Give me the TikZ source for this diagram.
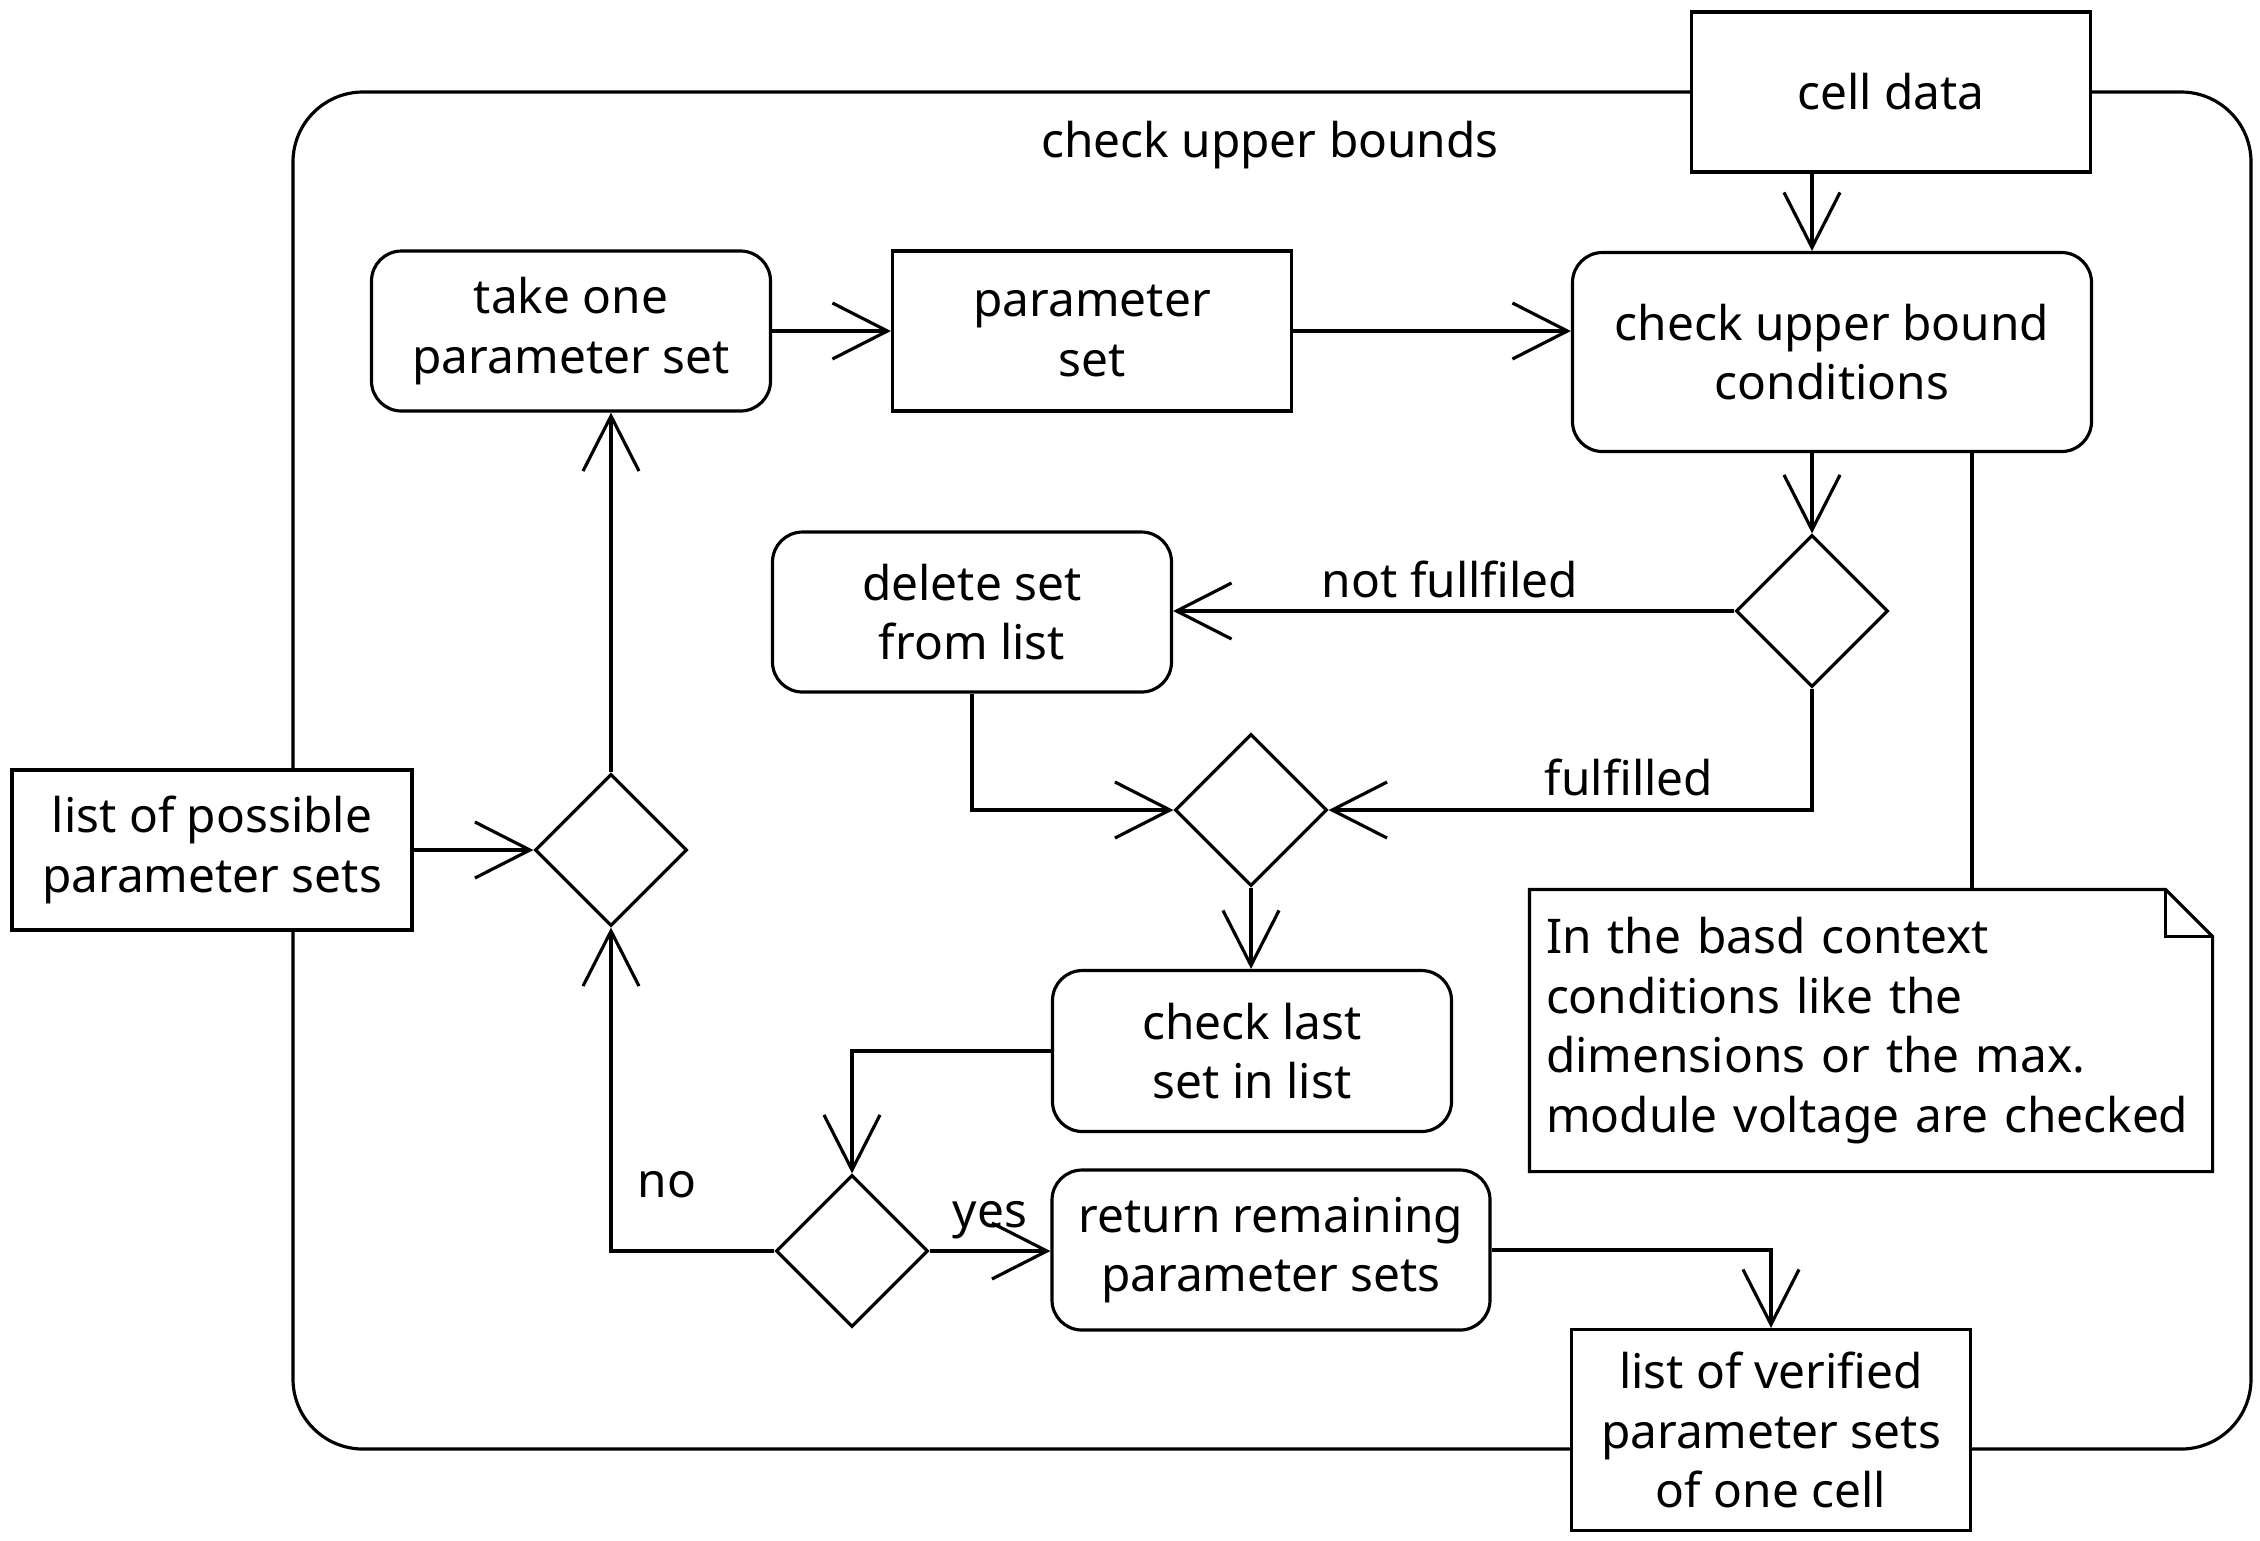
\documentclass[tikz,border=0pt]{standalone}
\usepackage{fontspec}
\setmainfont{Noto Sans}
\usetikzlibrary{arrows.meta,shapes.geometric}

\tikzset{
  action/.style={draw, rounded corners=0.3cm, align=center, fill=white,
    minimum width=3.99cm, minimum height=1.6cm, inner sep=0pt},
  objbox/.style={draw, rectangle, align=center, fill=white,
    minimum width=3.99cm, minimum height=1.6cm, inner sep=0pt},
  decision/.style={draw, diamond, fill=white,
    minimum width=1.52cm, minimum height=1.52cm, inner sep=0pt},
  flow/.style={->, >={Straight Barb[length=5.5mm,width=5.6mm]}},
}

\begin{document}
\begin{tikzpicture}[line width=0.9pt, font=\fontsize{13.6}{17}\selectfont]
      \useasboundingbox (0,0) rectangle (22.6,-15.4);

      % activity frame
       \draw [rounded corners=0.7cm] (2.93,-0.92) rectangle (22.51,-14.49);
       \node (frametitle) at (12.70,-1.45) {check upper bounds};

      % upper row
       \node [objbox] (celldata) at (18.91,-0.92) {cell data};
       \node [action, minimum width=5.19cm, minimum height=1.99cm] (checkub) at (18.32,-3.52) {check upper bound\\conditions};
       \node [action] (takeone) at (5.71,-3.31) {take one\\parameter set};
       \node [objbox] (paramset) at (10.92,-3.31) {parameter\\set};

      % decisions and actions
       \node [decision] (decub) at (18.12,-6.11) {};
       \node [action] (delset) at (9.72,-6.12) {delete set\\from list};
       \node [decision] (decmerge) at (12.51,-8.10) {};
       \node [action, minimum height=1.61cm] (checklast) at (12.52,-10.51) {check last\\set in list};
       \node [decision] (declast) at (8.52,-12.51) {};
       \node [action, minimum width=4.38cm] (retrem) at (12.71,-12.50) {return remaining\\parameter sets};
       \node [decision] (decloop) at (6.11,-8.50) {};

      % in and out
       \node [objbox, minimum width=4.0cm] (listposs) at (2.12,-8.50) {list of possible\\parameter sets};
       \node [objbox, minimum height=2.01cm] (listver) at (17.71,-14.30) {list of verified\\parameter sets\\of one cell};

      % note
       \node [text width=6.5cm, align=left, inner xsep=0.15cm, inner ysep=0pt, minimum height=2.79cm, minimum width=6.8cm] (note) at (18.71,-10.305)
         {In the basd context\\conditions like the\\dimensions or the max.\\module voltage are checked};
       \draw (note.north west) -- ([xshift=-0.47cm]note.north east) -- ([yshift=-0.47cm]note.north east)
         -- (note.south east) -- (note.south west) -- cycle;
       \draw ([xshift=-0.47cm]note.north east) |- ([yshift=-0.47cm]note.north east);
       \coordinate (notelink) at (19.72,0);
       \draw (checkub.south -| notelink) -- (note.north -| notelink);

      % flows
       \draw [flow] (celldata.south -| decub) -- (checkub.north -| decub);
       \draw [flow] (takeone.east) -- (paramset.west);
       \draw [flow] (paramset.east) -- (paramset.east -| checkub.west);
       \draw [flow] (checkub.south -| decub) -- (decub.north);
       \draw [flow] (decub.west) -- (decub.west -| delset.east);
       \node (notful) at (14.50,-5.79) {not fullfiled};
       \draw [flow] (delset.south) |- (decmerge.west);
       \draw [flow] (decub.south) |- (decmerge.east);
       \node (ful) at (16.29,-7.77) {fulfilled};
       \draw [flow] (decmerge.south) -- (decmerge.south |- checklast.north);
       \draw [flow] (checklast.west) -| (declast.north);
       \draw [flow] (declast.east) -- (declast.east -| retrem.west);
       \node (yes) at (9.90,-12.20) {yes};
       \draw [flow] (retrem.east) -| (listver.north);
       \draw [flow] (listposs.east) -- (decloop.west);
       \draw [flow] (decloop.north) -- (decloop.north |- takeone.south);
       \draw [flow] (declast.west) -| (decloop.south);
       \node (no) at (6.67,-11.85) {no};
    \end{tikzpicture}
\end{document}
